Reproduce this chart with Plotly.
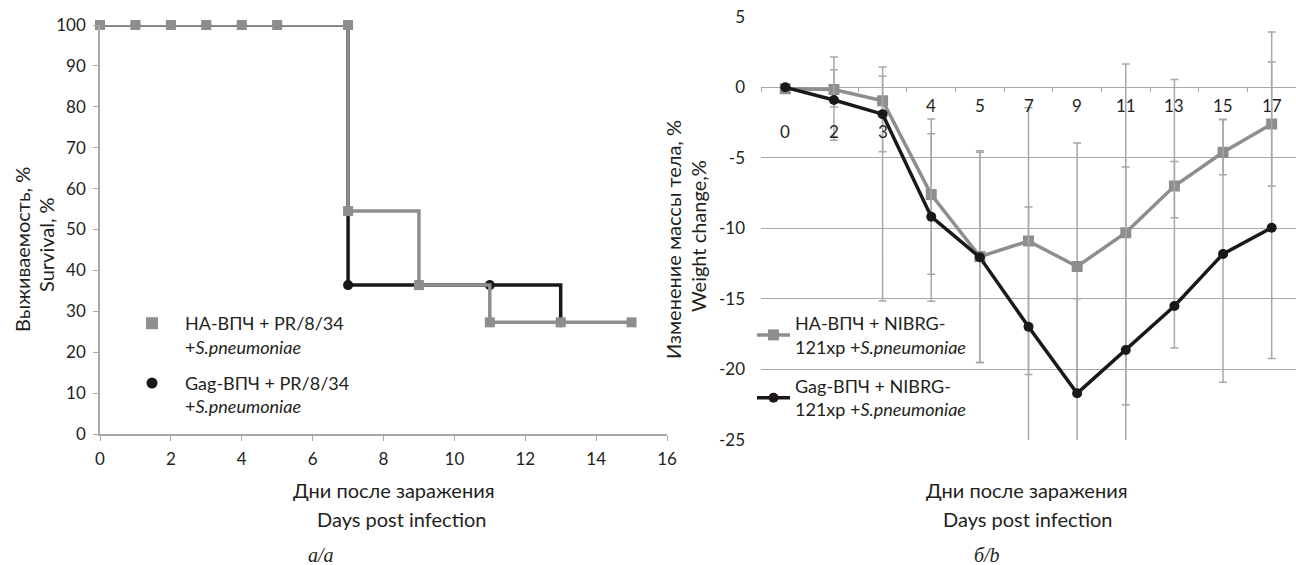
import plotly.graph_objects as go

# ---------------- data: survival (panel a) ----------------
surv_days_ha = [0, 1, 2, 3, 4, 5, 7, 7, 9, 11, 13, 15]
surv_ha = [100, 100, 100, 100, 100, 100, 100, 54.5, 36.4, 27.3, 27.3, 27.3]
surv_days_gag = [0, 1, 2, 3, 4, 5, 7, 9, 11, 13]
surv_gag = [100, 100, 100, 100, 100, 100, 36.4, 36.4, 36.4, 27.3]
surv_xticks = [0, 2, 4, 6, 8, 10, 12, 14, 16]
surv_yticks = [0, 10, 20, 30, 40, 50, 60, 70, 80, 90, 100]

# ---------------- data: weight change (panel b) ----------------
days = ['0', '2', '3', '4', '5', '7', '9', '11', '13', '15', '17']
wt_ha = [-0.1, -0.15, -0.95, -7.6, -12.0, -10.9, -12.7, -10.3, -7.0, -4.6, -2.6]
wt_ha_err_plus = [0, 1.4, 2.4, 5.35, 7.5, 9.45, 8.75, 11.95, 1.75, 2.3, 4.4]
wt_ha_err_minus = [0, 1.25, 14.2, 5.65, 7.5, 9.45, 8.75, 12.2, 2.25, 1.6, 4.4]
wt_gag = [0.0, -0.9, -1.9, -9.17, -12.05, -16.97, -21.69, -18.62, -15.5, -11.81, -9.95]
wt_gag_err_plus = [0, 3.05, 2.68, 5.88, 7.45, 8.49, 6.7, 12.97, 16.05, 9.54, 13.87]
wt_gag_err_minus = [0, 2.86, 2.66, 5.99, 7.45, 8.49, 6.7, 12.97, 2.97, 9.09, 9.28]
wt_yticks = [5, 0, -5, -10, -15, -20, -25]
wt_ytick_labels = ['5', '0', '-5', '-10', '-15', '-20', '-25']
wt_grid = [-5, -10, -15, -20, -25]
lowered_labels = ['0', '2', '3']

name_ha_a = 'HA-ВПЧ + PR/8/34<br>+<i>S.pneumoniae</i>'
name_gag_a = 'Gag-ВПЧ + PR/8/34<br>+<i>S.pneumoniae</i>'
name_ha_b = 'HA-ВПЧ + NIBRG-<br>121xp +<i>S.pneumoniae</i>'
name_gag_b = 'Gag-ВПЧ + NIBRG-<br>121xp +<i>S.pneumoniae</i>'

# ---------------- style ----------------
W, H = 1296, 565
GREY = '#8e8e8e'
BLACK = '#1c1819'
AXIS = '#a8a8a8'
TEXT = '#231f20'
FONT = "Lato, 'Noto Sans', sans-serif"
SERIF = "'Liberation Serif', 'DejaVu Serif', serif"


def px(x):
    return x / W


def py(y):
    return 1 - y / H


fig = go.Figure()

# ---- panel a traces ----
fig.add_trace(go.Scatter(
    x=surv_days_gag, y=surv_gag, mode='lines+markers', line_shape='hv',
    line=dict(color=BLACK, width=3.5),
    marker=dict(symbol='circle', size=10, color=BLACK),
    xaxis='x', yaxis='y', showlegend=False, cliponaxis=False))
fig.add_trace(go.Scatter(
    x=surv_days_ha, y=surv_ha, mode='lines+markers', line_shape='hv',
    line=dict(color=GREY, width=3.5),
    marker=dict(symbol='square', size=10, color=GREY),
    xaxis='x', yaxis='y', showlegend=False, cliponaxis=False))
# legend entries for panel a (markers only)
fig.add_trace(go.Scatter(
    x=[None], y=[None], mode='markers', name=name_ha_a,
    marker=dict(symbol='square', size=12, color=GREY),
    xaxis='x', yaxis='y', legend='legend', legendgroup='a1'))
fig.add_trace(go.Scatter(
    x=[None], y=[None], mode='markers', name=name_gag_a,
    marker=dict(symbol='circle', size=11, color=BLACK),
    xaxis='x', yaxis='y', legend='legend', legendgroup='a2'))

# ---- panel b traces ----
fig.add_trace(go.Scatter(
    x=days, y=wt_ha, mode='lines+markers', name=name_ha_b,
    line=dict(color=GREY, width=3.5),
    marker=dict(symbol='square', size=11, color=GREY),
    error_y=dict(type='data', symmetric=False, array=wt_ha_err_plus,
                 arrayminus=wt_ha_err_minus, color=AXIS, thickness=1.5, width=4),
    xaxis='x2', yaxis='y2', legend='legend2', legendgroup='b1'))
fig.add_trace(go.Scatter(
    x=days, y=wt_gag, mode='lines+markers', name=name_gag_b,
    line=dict(color=BLACK, width=3.5),
    marker=dict(symbol='circle', size=10, color=BLACK),
    error_y=dict(type='data', symmetric=False, array=wt_gag_err_plus,
                 arrayminus=wt_gag_err_minus, color=AXIS, thickness=1.5, width=4),
    xaxis='x2', yaxis='y3', legend='legend2', legendgroup='b2'))

tickfont = dict(family=FONT, size=17, color=TEXT)

annotations = []
# x category labels of panel b (placed just under the zero axis), by category index
for i, d in enumerate(days):
    yv = -3.1 if d in lowered_labels else -1.28
    annotations.append(dict(x=i, y=yv, xref='x2', yref='y2', text=d, showarrow=False,
                            xanchor='center', yanchor='middle',
                            font=dict(family=FONT, size=17, color=TEXT)))

titlefont = dict(family=FONT, size=20, color=TEXT)
capfont = dict(family=SERIF, size=20, color=TEXT)


def label(x, y, text, font, angle=0):
    return dict(x=px(x), y=py(y), xref='paper', yref='paper', text=text,
                showarrow=False, xanchor='center', yanchor='middle',
                textangle=angle, font=font)


annotations += [
    # panel a
    label(394, 490, 'Дни после заражения', titlefont),
    label(401, 519, 'Days post infection', titlefont),
    label(321, 555, '<i>а/a</i>', capfont),
    label(22, 250, 'Выживаемость, %', titlefont, -90),
    label(46, 245, 'Survival, %', titlefont, -90),
    # panel b
    label(1027, 490, 'Дни после заражения', titlefont),
    label(1027, 519, 'Days post infection', titlefont),
    label(987, 555, '<i>б/b</i>', capfont),
    label(673, 240, 'Изменение массы тела, %', titlefont, -90),
    label(698, 236, 'Weight change,%', titlefont, -90),
]

fig.update_layout(
    width=W, height=H,
    margin=dict(l=0, r=0, t=0, b=0, pad=0, autoexpand=False),
    paper_bgcolor='white', plot_bgcolor='white',
    font=dict(family=FONT, color=TEXT),
    xaxis=dict(domain=[px(100), px(667)], range=[0, 16], tickvals=surv_xticks,
               showline=True, linecolor=AXIS, linewidth=1.5, ticks='outside',
               ticklen=5, tickcolor=AXIS, tickwidth=1.3, showgrid=False, zeroline=False,
               tickfont=tickfont, ticklabelstandoff=4, anchor='y', automargin=False),
    yaxis=dict(domain=[py(434), py(25)], range=[0, 100], tickvals=surv_yticks,
               showline=True, linecolor=AXIS, linewidth=1.5, ticks='outside',
               ticklen=5, tickcolor=AXIS, tickwidth=1.3, showgrid=False, zeroline=False,
               tickfont=tickfont, ticklabelstandoff=4, anchor='x', automargin=False),
    xaxis2=dict(domain=[px(761), 1.0], type='category', categoryarray=days,
                categoryorder='array', range=[-0.5, len(days) - 0.5],
                anchor='free', position=py(87.3), showline=True, linecolor=AXIS,
                linewidth=1.3, ticks='outside', tickson='boundaries', ticklen=4,
                tickcolor=AXIS, tickwidth=1.2, showticklabels=False, showgrid=False,
                zeroline=False, layer='below traces', automargin=False),
    yaxis2=dict(domain=[py(440), py(16.8)], range=[-25, 5], tickvals=wt_grid,
                showticklabels=False, showgrid=True, gridcolor=AXIS, gridwidth=1.3,
                zeroline=False, showline=False, anchor='x2', automargin=False),
    yaxis3=dict(range=[-25, 5], overlaying='y2', anchor='x2', side='left',
                tickvals=wt_yticks, ticktext=wt_ytick_labels, showgrid=False,
                zeroline=False, showline=False, tickfont=tickfont, ticklabelstandoff=15,
                automargin=False),
    legend=dict(x=px(119), y=py(305), xanchor='left', yanchor='top',
                bgcolor='rgba(0,0,0,0)', itemwidth=56, valign='top',
                tracegroupgap=10, font=dict(family=FONT, size=18, color=TEXT)),
    legend2=dict(x=px(752), y=py(305), xanchor='left', yanchor='top',
                 bgcolor='rgba(0,0,0,0)', itemwidth=33, valign='middle',
                 tracegroupgap=13, font=dict(family=FONT, size=18, color=TEXT)),
    annotations=annotations,
)

fig.write_html('out.html', config={'displayModeBar': False},
               post_script="document.body.style.margin='0px';")
